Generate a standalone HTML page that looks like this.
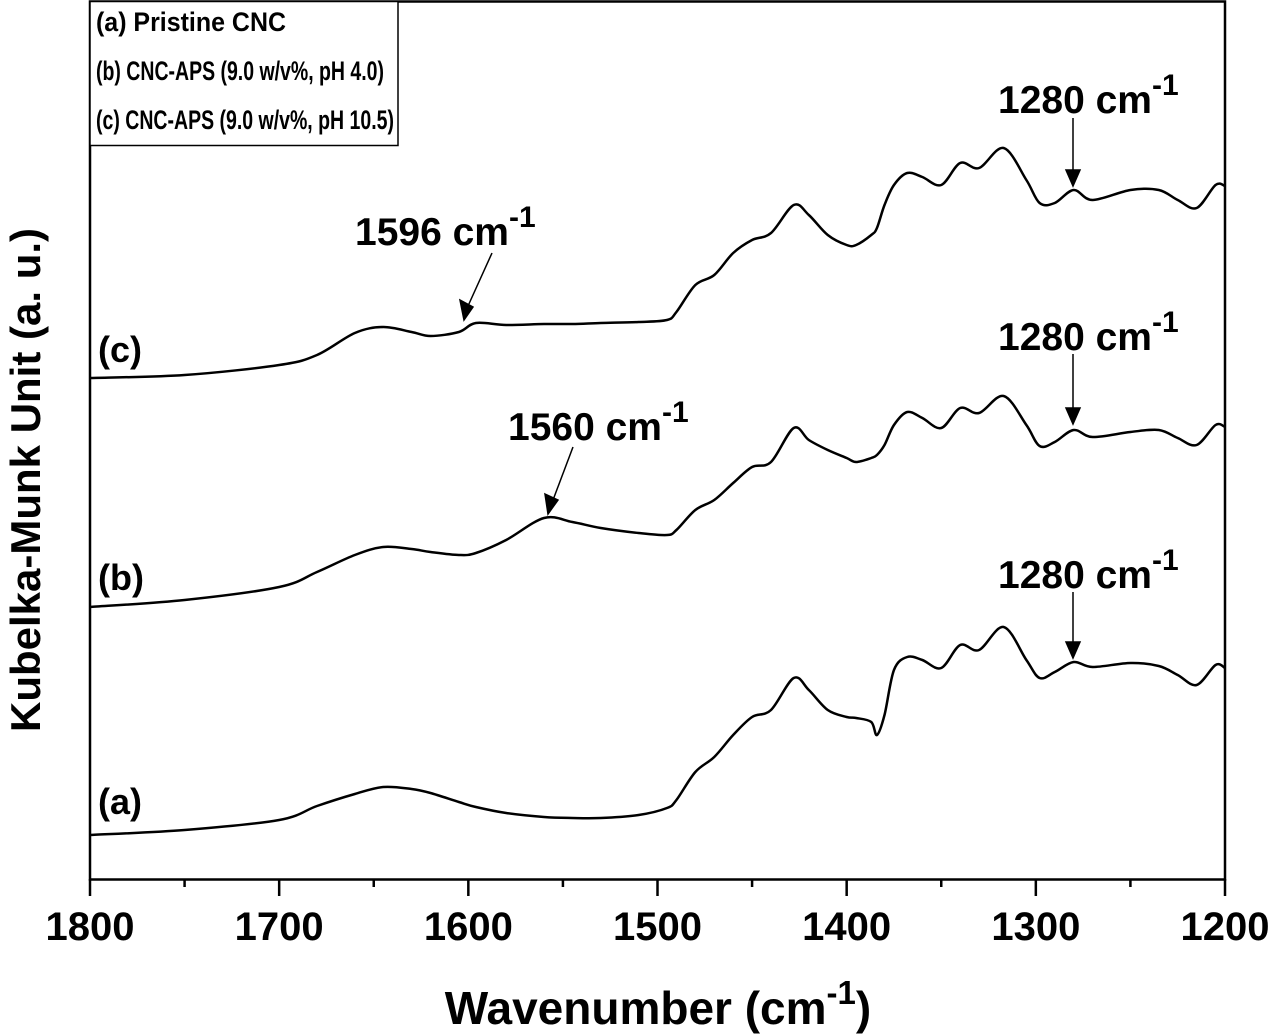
<!DOCTYPE html>
<html><head><meta charset="utf-8"><style>
body{margin:0;background:#fff}
svg{display:block}
text{font-family:"Liberation Sans",Arial,sans-serif;font-weight:bold;fill:#000}
</style></head><body>
<svg id="chart" width="1273" height="1034" viewBox="0 0 1273 1034" xmlns="http://www.w3.org/2000/svg">
<rect x="90" y="1.5" width="1135" height="878" fill="none" stroke="#000" stroke-width="2.5"/>
<g id="ticks"></g>
<g id="curves"></g>
<g>
<rect x="90" y="1.5" width="308" height="144" fill="#fff" stroke="#000" stroke-width="1.5"/>
<text x="96" y="31" font-size="27" textLength="190" lengthAdjust="spacingAndGlyphs">(a) Pristine CNC</text>
<text x="96" y="80" font-size="27" textLength="288" lengthAdjust="spacingAndGlyphs">(b) CNC-APS (9.0 w/v%, pH 4.0)</text>
<text x="96" y="129" font-size="27" textLength="298" lengthAdjust="spacingAndGlyphs">(c) CNC-APS (9.0 w/v%, pH 10.5)</text>
</g>
<text x="98" y="814" font-size="36">(a)</text>
<text x="98" y="590" font-size="36">(b)</text>
<text x="98" y="362" font-size="36">(c)</text>
<g stroke="#000" stroke-width="1.5" fill="#000">
<line x1="1073" y1="118" x2="1073" y2="178"/><polygon points="1066,170 1080,170 1073,186"/>
<line x1="1073" y1="354" x2="1073" y2="416"/><polygon points="1066,408 1080,408 1073,424"/>
<line x1="1073" y1="592" x2="1073" y2="650"/><polygon points="1066,642 1080,642 1073,658"/>
<line x1="492" y1="253" x2="468" y2="306"/><polygon points="460,300 473,307 464,320"/>
<line x1="573" y1="447" x2="553" y2="500"/><polygon points="545,494 558,500 548,514"/>
</g>
<text x="998" y="113" font-size="39">1280 cm<tspan dy="-18" font-size="30">-1</tspan></text>
<text x="998" y="350" font-size="39">1280 cm<tspan dy="-18" font-size="30">-1</tspan></text>
<text x="998" y="588" font-size="39">1280 cm<tspan dy="-18" font-size="30">-1</tspan></text>
<text x="355" y="245" font-size="39">1596 cm<tspan dy="-18" font-size="30">-1</tspan></text>
<text x="508" y="440" font-size="39">1560 cm<tspan dy="-18" font-size="30">-1</tspan></text>
<text x="658" y="1024" font-size="46" text-anchor="middle">Wavenumber (cm<tspan dy="-20" font-size="33">-1</tspan><tspan dy="20">)</tspan></text>
<text transform="translate(40,480) rotate(-90)" font-size="42" text-anchor="middle">Kubelka-Munk Unit (a. u.)</text>
</svg>
<script>
const wavenumbers = [1800,1750,1700,1680,1660,1645,1630,1620,1605,1596,1580,1560,1545,1530,1510,1495,1490,1480,1470,1460,1450,1440,1428,1420,1410,1400,1395,1387,1384,1380,1375,1368,1360,1350,1340,1330,1317,1305,1298,1290,1280,1270,1250,1235,1225,1215,1205,1200];
const seriesA = [835,830,820,806,794,787,789,793,802,807,813,817,818,818,815,808,800,772,757,735,717,710,678,690,710,717,718,722,735,715,670,657,660,668,645,650,627,660,678,672,662,667,663,666,675,685,665,668];
const seriesB = [607,600,587,572,555,547,549,552,555,553,540,518,522,528,533,535,530,510,500,483,467,462,428,440,450,458,462,458,455,445,425,412,418,428,408,413,396,425,446,442,430,437,432,430,438,445,425,427];
const seriesC = [378,375,365,355,333,327,332,336,332,323,325,324,324,323,322,320,312,285,275,253,240,233,205,215,235,245,245,235,228,205,185,173,177,185,163,168,148,180,203,203,190,200,190,190,200,208,185,186];
const tickValues = [1800,1700,1600,1500,1400,1300,1200];
const ns="http://www.w3.org/2000/svg";
const x = w => 90 + (1800 - w) * (1135/600);
const tg=document.getElementById('ticks');
for(let w=1800; w>=1200; w-=50){
  const major = tickValues.includes(w);
  const l=document.createElementNS(ns,'line');
  l.setAttribute('x1',x(w));l.setAttribute('x2',x(w));
  l.setAttribute('y1',879);l.setAttribute('y2',major?896:887);
  l.setAttribute('stroke','#000');l.setAttribute('stroke-width','2.5');
  
  
  tg.appendChild(l);
}
tickValues.forEach(v=>{
  const t=document.createElementNS(ns,'text');
  t.setAttribute('x',x(v));t.setAttribute('y',940);
  t.setAttribute('font-size','40');t.setAttribute('text-anchor','middle');
  t.textContent=v;
  
  
  tg.appendChild(t);
});
function pathFor(ys){
  const p=wavenumbers.map((w,i)=>[x(w),ys[i]]);
  let d='M'+p[0][0]+','+p[0][1];
  for(let i=0;i<p.length-1;i++){
    const p0=p[Math.max(0,i-1)],p1=p[i],p2=p[i+1],p3=p[Math.min(p.length-1,i+2)];
    const c1=[p1[0]+(p2[0]-p0[0])/6,p1[1]+(p2[1]-p0[1])/6];
    const c2=[p2[0]-(p3[0]-p1[0])/6,p2[1]-(p3[1]-p1[1])/6];
    d+=` C${c1[0]},${c1[1]} ${c2[0]},${c2[1]} ${p2[0]},${p2[1]}`;
  }
  return d;
}
const cg=document.getElementById('curves');
[['series-a',seriesA],['series-b',seriesB],['series-c',seriesC]].forEach(([n,ys])=>{
  const pa=document.createElementNS(ns,'path');
  pa.setAttribute('d',pathFor(ys));
  pa.setAttribute('fill','none');pa.setAttribute('stroke','#000');pa.setAttribute('stroke-width','2.5');
  
  
  cg.appendChild(pa);
});
</script>
</body></html>
